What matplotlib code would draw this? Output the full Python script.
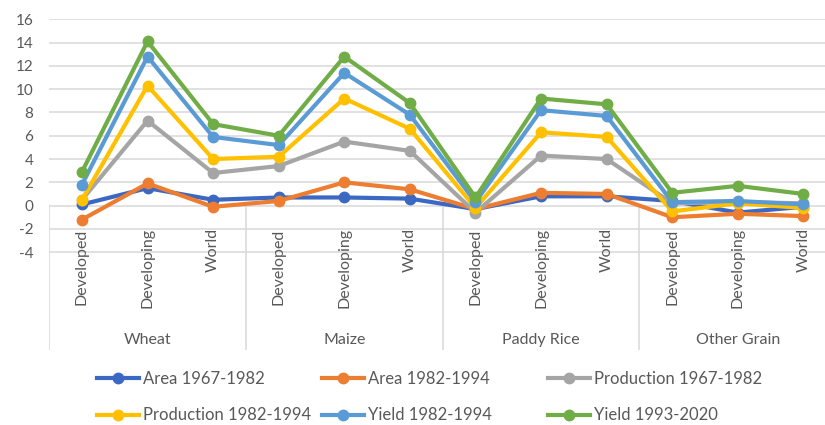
import matplotlib.pyplot as plt

plt.rcParams['font.family'] = ['Lato', 'DejaVu Sans']

groups = ["Wheat", "Maize", "Paddy Rice", "Other Grain"]
regions = ["Developed", "Developing", "World"]

area_6782 = [0.1, 1.5, 0.5, 0.7, 0.7, 0.6, -0.3, 0.8, 0.8, 0.4, -0.6, -0.1]
area_8294 = [-1.2, 1.9, -0.1, 0.4, 2.0, 1.4, -0.3, 1.1, 1.0, -1.0, -0.7, -0.9]
prod_6782 = [0.5, 7.3, 2.8, 3.4, 5.5, 4.7, -0.6, 4.3, 4.0, 0.2, 0.3, 0.2]
prod_8294 = [0.5, 10.3, 4.0, 4.2, 9.2, 6.6, -0.2, 6.3, 5.9, -0.5, 0.2, -0.2]
yield_8294 = [1.8, 12.8, 5.9, 5.2, 11.4, 7.8, 0.3, 8.2, 7.7, 0.3, 0.4, 0.1]
yield_9320 = [2.9, 14.1, 7.0, 6.0, 12.8, 8.8, 0.7, 9.2, 8.7, 1.1, 1.7, 1.0]

series = [
    ("Area 1967-1982", area_6782, "#3A68C2"),
    ("Area 1982-1994", area_8294, "#ED7D31"),
    ("Production 1967-1982", prod_6782, "#A5A5A5"),
    ("Production 1982-1994", prod_8294, "#FFC000"),
    ("Yield 1982-1994", yield_8294, "#5B9BD5"),
    ("Yield 1993-2020", yield_9320, "#70AD47"),
]

text_col = "#595959"
grid_col = "#D9D9D9"
fs = 11.5

fig = plt.figure(figsize=(8.25, 4.25), dpi=100)
ax = fig.add_axes([0.0596, 0.1765, 0.954, 0.778])

n = len(groups) * len(regions)
xs = list(range(n))
ymin = -12.4
ax.set_xlim(-0.5, n - 0.5)
ax.set_ylim(ymin, 16)

for s in ax.spines.values():
    s.set_visible(False)

yt = list(range(-4, 17, 2))
for v in yt:
    ax.axhline(v, color=grid_col, lw=1.1, zorder=0)
ax.set_yticks(yt)
ax.set_yticklabels([str(v) for v in yt])
ax.tick_params(axis='y', length=0, pad=11.5, labelsize=11, labelcolor=text_col)
ax.set_xticks([])

# group separators under the zero line
seps = [i * len(regions) - 0.5 for i in range(len(groups) + 1)]
ax.vlines(seps, ymin, 0, color=grid_col, lw=1.1, zorder=0)

handles = []
for name, vals, col in series:
    h, = ax.plot(xs, vals, color=col, lw=3, marker='o', ms=7.5, label=name,
                 solid_joinstyle='round', zorder=3)
    handles.append(h)

for i in xs:
    ax.text(i, -1.95, regions[i % len(regions)], rotation=90, ha='center',
            va='top', fontsize=fs, color=text_col)
for g, name in enumerate(groups):
    ax.text(g * len(regions) + 1, -11.5, name, ha='center', va='center',
            fontsize=fs, color=text_col)

# legend laid out in three equal-width columns
cols = [(handles[0], handles[3]), (handles[1], handles[4]), (handles[2], handles[5])]
col_x = [97, 322, 548]
lfs = 12
for (h1, h2), x0 in zip(cols, col_x):
    fig.legend([h1, h2], [h1.get_label(), h2.get_label()],
               loc='upper left', bbox_to_anchor=(x0 / 825, 1 - 371 / 425),
               frameon=False, fontsize=lfs, handlelength=2.5,
               handletextpad=0.25, labelspacing=1.22, borderpad=0,
               borderaxespad=0, labelcolor=text_col)

fig.savefig("out.png", dpi=100)
